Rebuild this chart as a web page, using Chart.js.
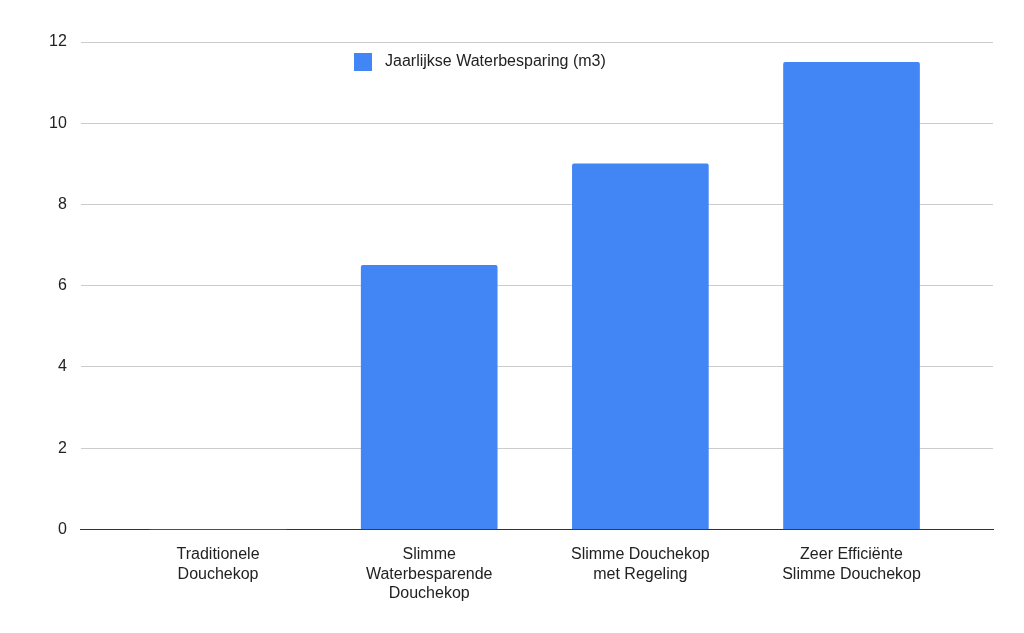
<!DOCTYPE html>
<html><head><meta charset="utf-8">
<script src="https://cdn.jsdelivr.net/npm/chart.js@4/dist/chart.umd.min.js"></script>
<style>html,body{margin:0;background:#fff}#w{width:1024px;height:633px}</style>
</head><body><div id="w"><canvas id="c"></canvas></div>
<script>
const categories = [["Traditionele","Douchekop"],["Slimme","Waterbesparende","Douchekop"],["Slimme Douchekop","met Regeling"],["Zeer Efficiënte","Slimme Douchekop"]];
const seriesLabel = "Jaarlijkse Waterbesparing (m3)";
const values = [0, 6.5, 9, 11.5];
const yTicks = [0,2,4,6,8,10,12];
const FONT = "'Liberation Sans', Arial, sans-serif";
const legendPlugin = {
  id:'inlineLegend',
  afterDraw(chart){
    const ctx = chart.ctx, a = chart.chartArea;
    ctx.save();
    ctx.font = "16px " + FONT;
    const tw = ctx.measureText(seriesLabel).width;
    const x0 = 354;
    const y = 62;
    ctx.fillStyle = '#4285f4';
    ctx.fillRect(x0, y-9, 18, 18);
    ctx.fillStyle = '#222';
    ctx.textBaseline = 'middle';
    ctx.fillText(seriesLabel, x0 + 31, y);
    ctx.restore();
  }
};
new Chart(document.getElementById('c'), {
  type:'bar',
  data:{datasets:[{label:seriesLabel, data:values.map((v,i)=>({x:i,y:v})), backgroundColor:'#4285f4', barThickness:136, borderRadius:{topLeft:2,topRight:2}, borderSkipped:'bottom'}]},
  options:{
    responsive:true, maintainAspectRatio:false, animation:false,
    layout:{padding:{top:42, right:31, left:35, bottom:22}},
    plugins:{legend:{display:false}, tooltip:{enabled:false}},
    scales:{
      x:{type:'linear', min:-0.65, max:3.67, offset:false,
         afterBuildTicks(s){s.ticks = categories.map((c,i)=>({value:i}));},
         grid:{display:false}, border:{color:'#333', width:1},
         ticks:{color:'#222', font:{family:FONT, size:16}, maxRotation:0, autoSkip:false, padding:8,
                callback:(v)=>categories[v]}},
      y:{min:0, max:12, afterBuildTicks(s){s.ticks = yTicks.map(v=>({value:v}));},
         grid:{color:'#cccccc', drawTicks:false}, border:{display:false},
         ticks:{color:'#222', font:{family:FONT, size:16}, padding:14}}
    }
  },
  plugins:[legendPlugin]
});
</script></body></html>
